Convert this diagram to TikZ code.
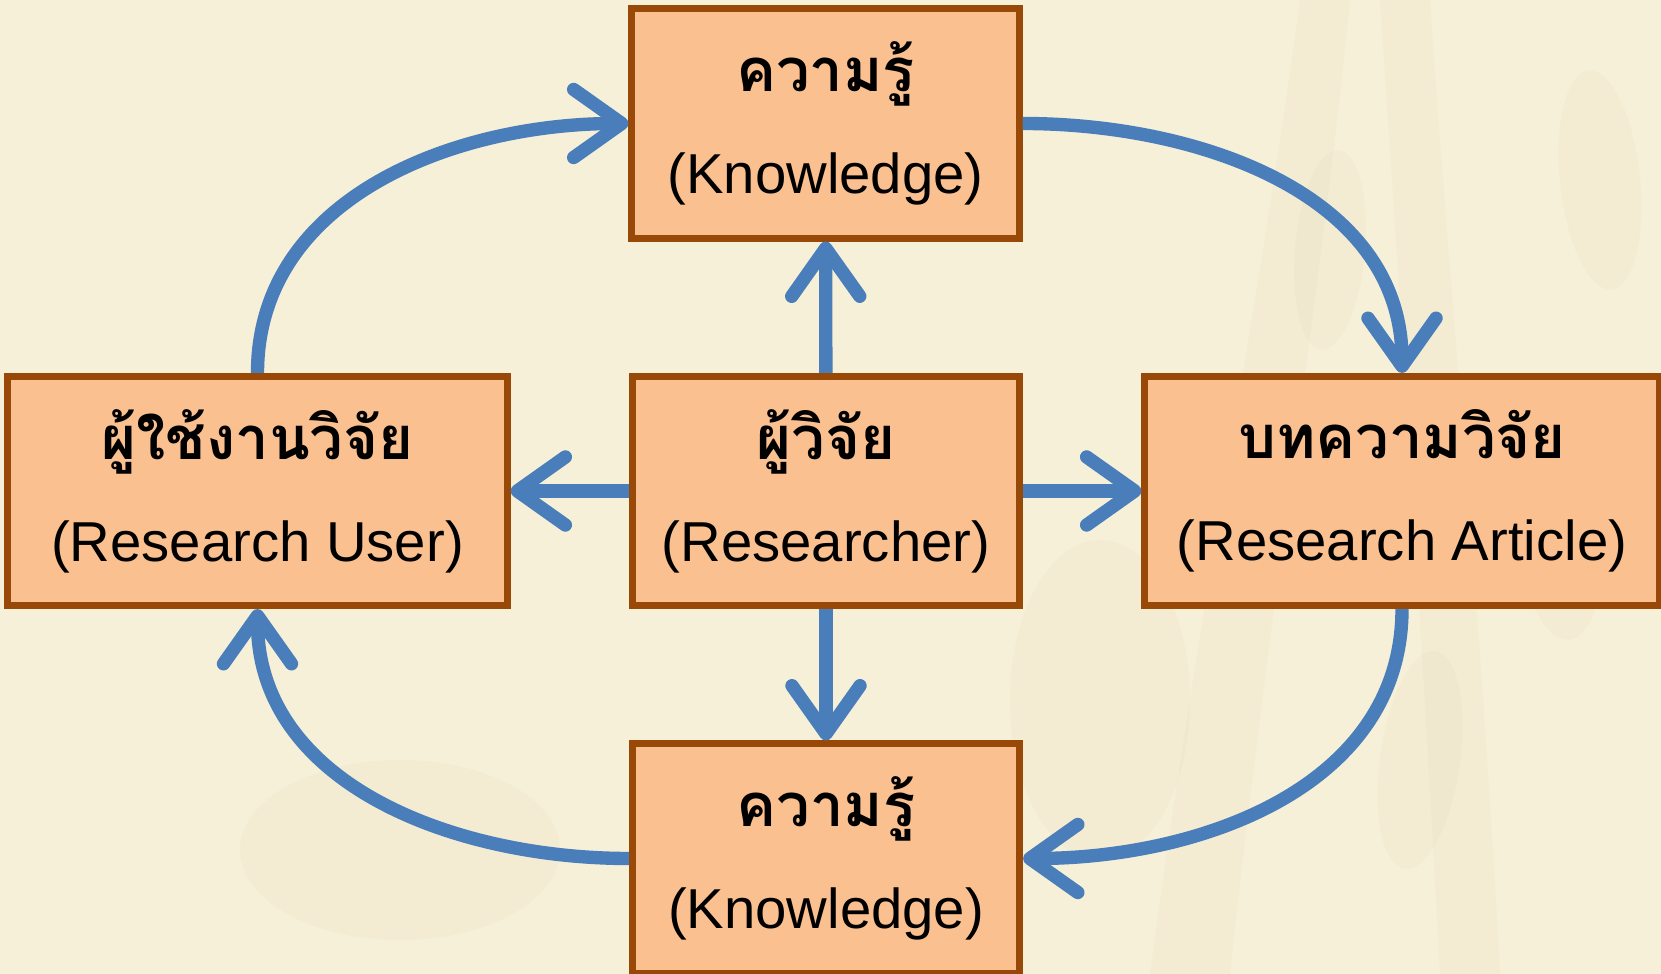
\documentclass[tikz,border=0pt]{standalone}
\usepackage{fontspec}
\setmainfont{Liberation Sans}
\newfontfamily\thaifont[Script=Thai]{Loma}
\usetikzlibrary{arrows.meta}

\definecolor{paper}{HTML}{F6F0D8}
\definecolor{straw}{HTML}{C9AE86}
\definecolor{boxfill}{HTML}{FAC090}
\definecolor{boxline}{HTML}{984807}
\definecolor{flow}{HTML}{4A7EBB}

\newcommand{\thaitext}[1]{{\thaifont\bfseries\fontsize{17}{29}\selectfont #1}}

\tikzset{
  box/.style={draw=boxline, line width=2pt, fill=boxfill, minimum height=2.29cm,
    inner sep=0pt, align=center, font=\fontsize{16}{29}\selectfont},
  link/.style={draw=flow, line width=3.8pt,
    -{Straight Barb[round,length=0.48cm,width=0.68cm]}},
  grain/.style={fill=straw, opacity=0.06}
}

\begin{document}
\begin{tikzpicture}[x=0.01cm, y=-0.01cm]

        % Background
        \fill[paper] (0,0) rectangle (1661,974);
        \useasboundingbox (0,0) rectangle (1661,974);

        % Faded rice in the background
        \fill[grain] (1300,0) .. controls (1260,300) and (1200,600) .. (1150,974) -- (1230,974) .. controls (1270,600) and (1320,300) .. (1350,0) -- cycle;
        \fill[grain] (1380,0) .. controls (1400,300) and (1420,600) .. (1440,974) -- (1500,974) .. controls (1480,600) and (1450,300) .. (1430,0) -- cycle;
        \fill[grain, rotate around={-8:(1420,760)}] (1420,760) ellipse (40 and 110);
        \fill[grain, rotate around={4:(1560,520)}] (1560,520) ellipse (45 and 120);
        \fill[grain, rotate around={-5:(1330,250)}] (1330,250) ellipse (35 and 100);
        \fill[grain, rotate around={6:(1600,180)}] (1600,180) ellipse (40 and 110);
        \fill[grain] (1100,700) ellipse (90 and 160);
        \fill[grain] (400,850) ellipse (160 and 90);

        % Draw the boxes
        \node[box, minimum width=3.87cm] (know1) at (825.5,123.5) {\thaitext{ความรู้}\\(Knowledge)};
        \node[box, minimum width=3.87cm] (res) at (826,491) {\thaitext{ผู้วิจัย}\\(Researcher)};
        \node[box, minimum width=4.99cm] (user) at (257.5,491) {\thaitext{ผู้ใช้งานวิจัย}\\(Research User)};
        \node[box, minimum width=5.14cm] (article) at (1402,491) {\thaitext{บทความวิจัย}\\(Research Article)};
        \node[box, minimum width=3.87cm] (know2) at (826,858.5) {\thaitext{ความรู้}\\(Knowledge)};

        % Arrows out of the researcher
        \draw[link] (res) -- (know1);
        \draw[link] (res) -- (know2);
        \draw[link] (res) -- (user);
        \draw[link] (res) -- (article);

        % The outer cycle
        \draw[link] (know1.east) to[out=0, in=90] (article.north);
        \draw[link] (article.south) to[out=-90, in=0] (know2.east);
        \draw[link] (know2.west) to[out=180, in=-90] (user.south);
        \draw[link] (user.north) to[out=90, in=180] (know1.west);

\end{tikzpicture}
\end{document}
